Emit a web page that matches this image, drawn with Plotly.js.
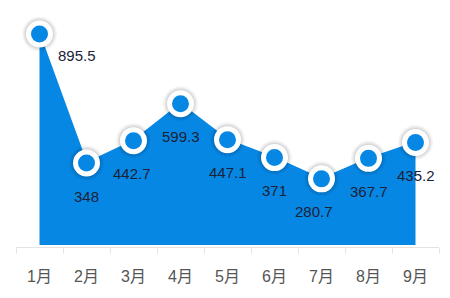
<!DOCTYPE html>
<html>
<head>
<meta charset="utf-8">
<script src="https://cdn.plot.ly/plotly-3.0.1.min.js"></script>
<style>html,body{margin:0;padding:0;background:#fff;}#chart{width:450px;height:298px;}</style>
</head>
<body>
<div id="chart"></div>
<script>
const months = ['1月','2月','3月','4月','5月','6月','7月','8月','9月'];
const values = [895.5, 348, 442.7, 599.3, 447.1, 371, 280.7, 367.7, 435.2];
const labels = ['895.5','348','442.7','599.3','447.1','371','280.7','367.7','435.2'];

const blue = '#0787e4';

const traces = [
  {
    x: months, y: values, type: 'scatter', mode: 'lines',
    fill: 'tozeroy', fillcolor: blue,
    line: {color: blue, width: 1.5},
    hoverinfo: 'skip'
  },
  {
    x: months, y: values, type: 'scatter', mode: 'markers',
    marker: {size: 35, color: 'rgba(0,0,0,0.04)'},
    cliponaxis: false, hoverinfo: 'skip'
  },
  {
    x: months, y: values, type: 'scatter', mode: 'markers',
    marker: {size: 32, color: 'rgba(0,0,0,0.06)'},
    cliponaxis: false, hoverinfo: 'skip'
  },
  {
    x: months, y: values, type: 'scatter', mode: 'markers',
    marker: {size: 29, color: 'rgba(0,0,0,0.07)'},
    cliponaxis: false, hoverinfo: 'skip'
  },
  {
    x: months, y: values, type: 'scatter', mode: 'markers',
    marker: {size: 22, color: blue, line: {color: '#ffffff', width: 5}},
    cliponaxis: false, hoverinfo: 'skip'
  }
];

const annotations = months.map((m, i) => {
  const first = i === 0;
  return {
    x: m, y: values[i], xref: 'x', yref: 'y',
    text: labels[i], showarrow: false,
    xshift: first ? 37 : (i === 6 ? -8 : (i === 2 ? -2 : 0)),
    yshift: first ? -21 : -33,
    font: {family: 'Liberation Sans, Arial, sans-serif', size: 15, color: '#1b2236'}
  };
});

const layout = {
  width: 450, height: 298,
  margin: {l: 16, r: 11, t: 10, b: 51},
  paper_bgcolor: '#ffffff', plot_bgcolor: '#ffffff',
  showlegend: false,
  xaxis: {
    type: 'category', range: [-0.5, 8.5],
    showgrid: false, zeroline: false,
    showline: true, linecolor: '#e3e3e3', linewidth: 1,
    ticks: 'outside', tickson: 'boundaries', ticklen: 6, tickcolor: '#e6e6e6',
    ticklabelstandoff: 15,
    tickfont: {family: 'Liberation Sans, Noto Sans CJK SC, sans-serif', size: 16, color: '#555555'},
    fixedrange: true
  },
  yaxis: {
    range: [-8.5, 997.5], visible: false, showgrid: false, zeroline: false,
    fixedrange: true
  },
  annotations: annotations
};

Plotly.newPlot('chart', traces, layout, {displayModeBar: false, staticPlot: true});
</script>
</body>
</html>
